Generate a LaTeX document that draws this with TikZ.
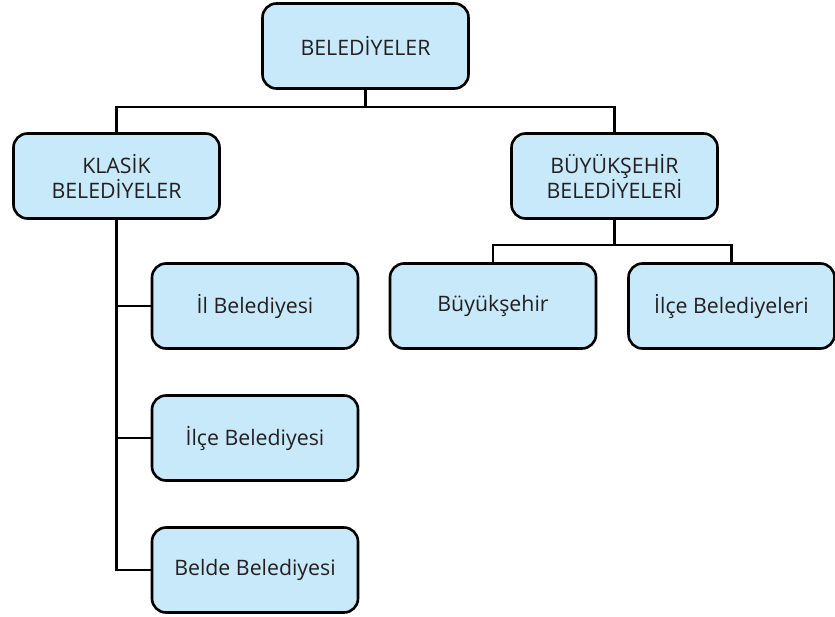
\documentclass[tikz,border=0pt]{standalone}
\usepackage{fontspec}
\setmainfont{Open Sans}
\definecolor{boxfill}{HTML}{C8E9F9}
\definecolor{inktext}{HTML}{231F20}
\begin{document}
\begin{tikzpicture}[x=1pt,y=-1pt,
  unit/.style={draw=black, fill=boxfill, line width=2.6pt, rounded corners=14pt,
    minimum width=206pt, minimum height=85pt, align=center, text=inktext,
    font=\fontsize{21.3}{25}\selectfont, inner sep=0pt},
  link/.style={draw=black, line width=2.4pt}]
\useasboundingbox (0,0) rectangle (835,616);
% top level
\node[unit] (top) at (365.5,46) {BELEDİYELER};
% second level
\node[unit] (klasik) at (116.5,176) {KLASİK\\BELEDİYELER};
\node[unit] (buyuk) at (614.5,176) {BÜYÜKŞEHİR\\BELEDİYELERİ};
% classic municipalities
\node[unit] (il) at (255,306) {İl Belediyesi};
\node[unit] (ilce) at (255,438) {İlçe Belediyesi};
\node[unit] (belde) at (255,570) {Belde Belediyesi};
% metropolitan municipalities
\node[unit] (bs) at (493,306) {Büyükşehir};
\node[unit] (ib) at (731.5,306) {İlçe Belediyeleri};
% connectors
\coordinate (h1) at (365.5,107);
\coordinate (h2) at (614.5,245);
\draw[link] (top.south) -- (h1);
\draw[link] (klasik.north) -- (klasik.north |- h1) -- (buyuk.north |- h1) -- (buyuk.north);
\draw[link] (klasik.south) |- (belde.west);
\draw[link] (il.west) -- (il.west -| klasik.south);
\draw[link] (ilce.west) -- (ilce.west -| klasik.south);
\draw[link] (buyuk.south) -- (h2);
\draw[link] (bs.north) -- (bs.north |- h2) -- (ib.north |- h2) -- (ib.north);
\end{tikzpicture}
\end{document}
